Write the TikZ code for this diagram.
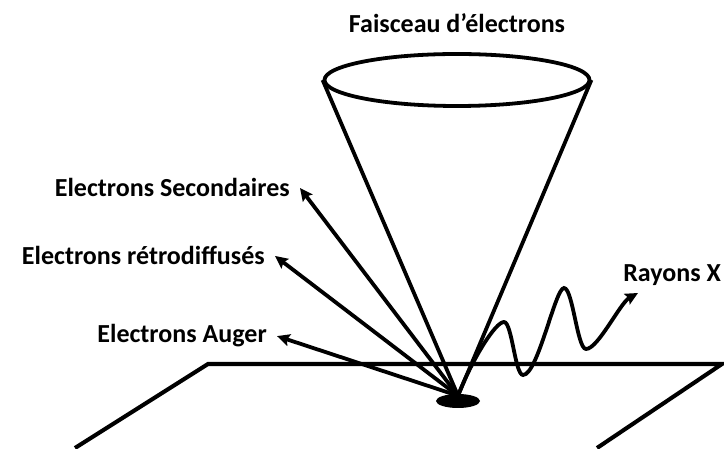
\documentclass[tikz,border=0pt]{standalone}
\usepackage{fontspec}
\setmainfont{Carlito}
\usetikzlibrary{shapes, arrows.meta}
\tikzstyle{txt} = [font=\bfseries\fontsize{18.5}{22}\selectfont, inner xsep=0.25cm, inner ysep=0pt]
\tikzstyle{beamline} = [line width=2.7pt]
\tikzstyle{arrow} = [line width=2.7pt, -{Stealth[length=9pt, width=8.5pt, inset=1.5pt]}]

\begin{document}
\begin{tikzpicture}
    \useasboundingbox (0,0) rectangle (18.1,11.2);

    \node (beam) [txt, anchor=base] at (11.425,10.375) {Faisceau d’électrons};
    \node (mouth) [ellipse, draw, beamline, minimum width=6.625cm, minimum height=1.3cm, inner sep=0pt] at (11.425,9.2) {};
    \node (spot) [ellipse, fill=black, minimum width=1.1cm, minimum height=0.35cm, inner sep=0pt] at (11.45,1.175) {};
    \coordinate (hit) at ([yshift=-0.05cm]spot.north);

    \draw [line width=2.9pt, line join=miter] (1.875,0) -- (5.2,2.1) -- (18.05,2.1) -- (14.925,0);

    \draw [beamline] (mouth.west) -- (hit) -- (mouth.east);

    \node (sec) [txt, anchor=base east] at (7.5,6.275) {Electrons Secondaires};
    \node (retro) [txt, anchor=base east] at (6.875,4.575) {Electrons rétrodiffusés};
    \node (auger) [txt, anchor=base east] at (6.925,2.625) {Electrons Auger};
    \node (rx) [txt, anchor=base west] at (15.325,4.15) {Rayons X};
    \coordinate (xtip) at (15.95,3.875);

    \draw [arrow] (hit) -- (sec.east);
    \draw [arrow] (hit) -- (retro.east);
    \draw [arrow] (hit) -- (auger.east);
    \draw [arrow] (hit)
        .. controls +(0.35,0.9) and +(-0.22,0) .. (12.6,3.15)
        .. controls +(0.2,0) and +(-0.2,0) .. (13.075,1.825)
        .. controls +(0.37,0) and +(-0.22,0) .. (14.1,4.0)
        .. controls +(0.22,0) and +(-0.22,0) .. (14.65,2.475)
        .. controls +(0.3,0) and +(-0.45,-0.25) .. (xtip);
\end{tikzpicture}
\end{document}
